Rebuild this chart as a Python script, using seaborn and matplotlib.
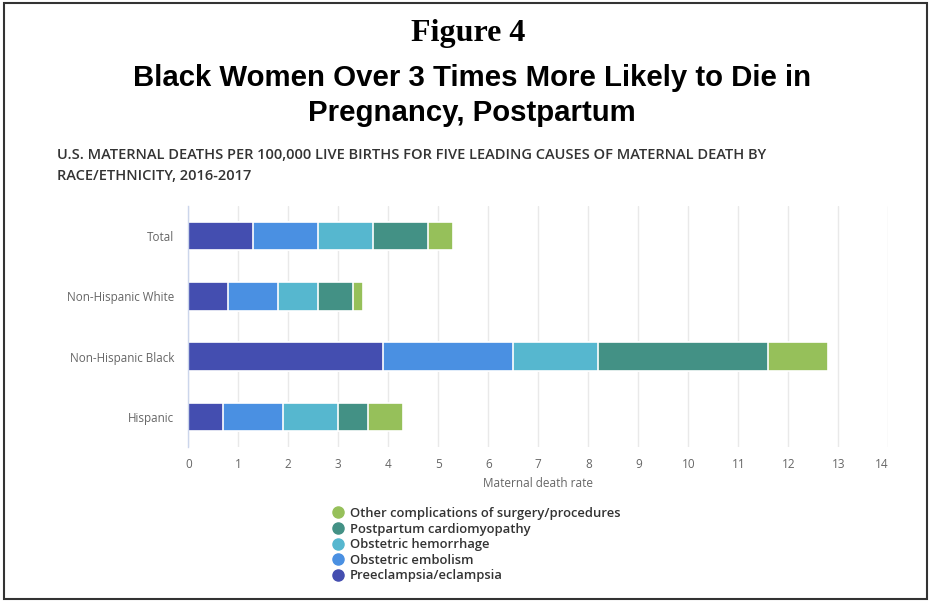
import numpy as np
import pandas as pd
import matplotlib
matplotlib.use("Agg")
import matplotlib.pyplot as plt
from matplotlib.lines import Line2D
from matplotlib.patches import Rectangle
import seaborn as sns

# Maternal deaths per 100,000 live births, by cause and group
groups = ["Total", "Non-Hispanic White", "Non-Hispanic Black", "Hispanic"]
preeclampsia = [1.3, 0.8, 3.9, 0.7]
embolism = [1.3, 1.0, 2.6, 1.2]
hemorrhage = [1.1, 0.8, 1.7, 1.1]
cardiomyopathy = [1.1, 0.7, 3.4, 0.6]
other = [0.5, 0.2, 1.2, 0.7]

causes = ["Preeclampsia/eclampsia", "Obstetric embolism", "Obstetric hemorrhage",
          "Postpartum cardiomyopathy", "Other complications of surgery/procedures"]
colors = ["#444eb0", "#4a90e2", "#56b7cf", "#439185", "#96c05a"]
x_ticks = list(range(0, 15))

sns.set_theme(style="white")
plt.rcParams["font.family"] = ["Open Sans", "DejaVu Sans"]

W, H = 931, 602
fig = plt.figure(figsize=(W / 100, H / 100), dpi=100)
fig.patch.set_facecolor("white")

def fx(px):
    return px / W

def fy(py):
    return 1 - py / H

ax = fig.add_axes([fx(188.3), fy(447), fx(888.3) - fx(188.3), fy(206) - fy(447)])

# Long-format table, stacked via cumulative totals drawn back to front
series = [preeclampsia, embolism, hemorrhage, cardiomyopathy, other]
df = pd.DataFrame({"group": groups})
cum = np.zeros(len(groups))
for name, vals in zip(causes, series):
    cum = cum + np.array(vals)
    df[name] = cum

for name, col in reversed(list(zip(causes, colors))):
    sns.barplot(data=df, x=name, y="group", order=groups, orient="h",
                color=col, saturation=1, width=0.47, edgecolor="white",
                linewidth=1.2, ax=ax, zorder=3)

ax.set_xlim(0, 14)
ax.set_xticks(x_ticks)
ax.set_xticklabels([str(t) for t in x_ticks])
ax.grid(axis="x", color="#e9e9e9", linewidth=1, zorder=0)
ax.grid(axis="y", visible=False)
for side in ["top", "right", "bottom"]:
    ax.spines[side].set_visible(False)
ax.spines["left"].set_color("#ccd6eb")
ax.spines["left"].set_linewidth(1)
ax.spines["left"].set_zorder(4)
ax.tick_params(axis="x", length=0, pad=8, labelsize=8.5, labelcolor="#666666")
ax.tick_params(axis="y", length=0, pad=10, labelsize=8.4, labelcolor="#666666")
ax.set_ylabel("")
ax.set_xlabel("Maternal death rate", fontsize=8.5, color="#666666", labelpad=4)
lbls = ax.get_xticklabels()
lbls[-1].set_horizontalalignment("right")

# Titles
fig.text(fx(468.5), fy(34), "Figure 4", ha="center", va="center",
         fontsize=23, fontweight="bold", family=["Liberation Serif", "DejaVu Serif"],
         color="black")
fig.text(fx(472), fy(78), "Black Women Over 3 Times More Likely to Die in",
         ha="center", va="center", fontsize=21.2, fontweight="bold",
         family=["Liberation Sans", "DejaVu Sans"], color="black")
fig.text(fx(472), fy(113), "Pregnancy, Postpartum",
         ha="center", va="center", fontsize=21.2, fontweight="bold",
         family=["Liberation Sans", "DejaVu Sans"], color="black")
fig.text(fx(57), fy(155),
         "U.S. MATERNAL DEATHS PER 100,000 LIVE BIRTHS FOR FIVE LEADING CAUSES OF MATERNAL DEATH BY",
         ha="left", va="center", fontsize=10.5, fontweight="semibold", color="#333333")
fig.text(fx(57), fy(176), "RACE/ETHNICITY, 2016-2017",
         ha="left", va="center", fontsize=10.5, fontweight="semibold", color="#333333")

# Legend, last cause listed first
handles = [Line2D([0], [0], marker="o", linestyle="", markersize=8,
                  markerfacecolor=c, markeredgecolor=c) for c in reversed(colors)]
leg = fig.legend(handles, list(reversed(causes)), loc="upper left",
                 bbox_to_anchor=(fx(330), fy(507)), frameon=False,
                 fontsize=9.4, handletextpad=0.3, labelspacing=0.2,
                 handlelength=1.2, borderaxespad=0, borderpad=0)
for t in leg.get_texts():
    t.set_color("#333333")
    t.set_fontweight("semibold")

# Outer frame
fig.patches.append(Rectangle((fx(4), fy(599)), fx(927) - fx(4), fy(3) - fy(599),
                             transform=fig.transFigure, fill=False,
                             edgecolor="#333333", linewidth=1.5))

fig.savefig("out.png", dpi=100, facecolor="white")
